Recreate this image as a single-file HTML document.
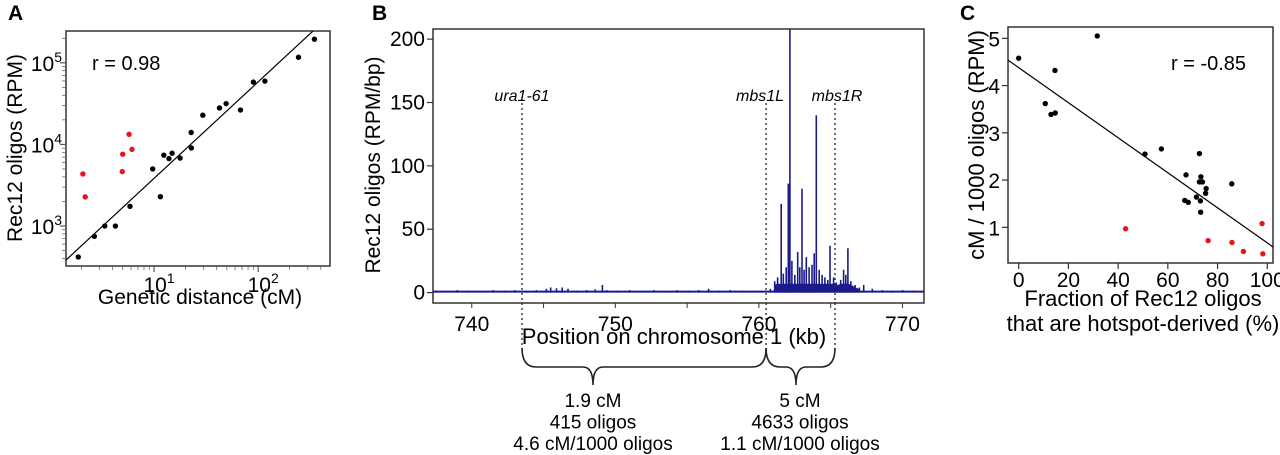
<!DOCTYPE html>
<html><head><meta charset="utf-8"><style>
html,body{margin:0;padding:0;background:#fff;width:1280px;height:455px;overflow:hidden}
svg{display:block;font-family:"Liberation Sans",sans-serif}
</style></head><body>
<svg id="fig" width="1280" height="455" viewBox="0 0 1280 455" xmlns="http://www.w3.org/2000/svg"></svg>
<script>
// ---------- Panel A data (genetic distance cM vs Rec12 oligos RPM) ----------
const aBlackX=[1.87,2.67,3.36,4.25,5.87,9.7,11.5,12.4,13.9,14.9,17.8,22.7,22.8,29.4,42.5,49.2,67.6,90,116,244,347];
const aBlackY=[417,748,1000,1000,1745,5010,2290,7380,6700,7800,6800,14000,9060,22800,28000,31600,26400,58000,59700,117000,195000];
const aRedX=[2.07,2.18,4.95,5.0,5.75,6.14];
const aRedY=[4350,2270,4640,7590,13300,8700];
const aFit=[2.583,1.183,0.154]; // log-log line: intercept at log x0, slope, log x0
const aYTicks=[3,4,5];
const aXTicks=[1,2];
// ---------- Panel B data (position kb vs Rec12 oligos RPM/bp) ----------
const bPos=[737.5,738.2,739.0,739.8,740.6,741.5,742.3,743.0,743.8,744.5,745.2,745.5,745.9,746.3,746.7,747.3,748.0,748.6,749.1,749.4,750.2,751.0,751.9,752.7,753.5,754.3,755.1,755.8,756.5,757.2,758.0,758.8,759.5,760.2,760.8,761.1,761.3,761.55,761.7,761.9,762.05,762.16,762.3,762.5,762.7,762.85,763.0,763.15,763.3,763.5,763.7,763.85,764.0,764.2,764.4,764.6,764.8,764.95,765.2,765.4,765.7,765.9,766.05,766.2,766.4,766.7,767.0,767.3,767.9,768.6,769.3,770.0,770.8];
const bVal=[1.5,1,2,1.5,1,2,1.5,2,1.5,2,3,4,3.5,4,3,1.5,2,2.5,6,2,1.5,2,1.5,2,1,2,1.5,2,3,1.5,2,1.5,1,1.5,3,9,12,70,15,20,86,210,25,14,32,20,82,18,28,20,22,31,140,18,14,12,10,37,12,8,10,18,14,35,9,6,4,6,3,2,1.5,2,1.5];
const bYTicks=[0,50,100,150,200];
const bXTicks=[740,750,760,770];
const bMarkers=[743.5,760.5,765.3];
const bMarkerNames=["ura1-61","mbs1L","mbs1R"];
// ---------- Panel C data (hotspot fraction % vs cM/1000 oligos) ----------
const cBlackX=[0,31.6,14.6,10.7,13.0,14.7,50.8,57.4,72.7,67.3,73.3,72.7,73.9,75.4,75.2,85.7,66.8,68.2,71.5,73.1,73.2];
const cBlackY=[4.58,5.05,4.32,3.62,3.39,3.42,2.55,2.66,2.56,2.11,2.07,1.96,1.96,1.82,1.72,1.92,1.57,1.53,1.64,1.56,1.32];
const cRedX=[43.0,76.2,85.8,90.4,97.9,98.2];
const cRedY=[0.97,0.72,0.68,0.49,1.08,0.44];
const cFit=[4.38,-0.0371];
const cYTicks=[1,2,3,4,5];
const cXTicks=[0,20,40,60,80,100];

const NS="http://www.w3.org/2000/svg";
const svg=document.getElementById('fig');
function mk(tag,attrs,parent,text){const e=document.createElementNS(NS,tag);for(const k in attrs)e.setAttribute(k,attrs[k]);if(text!==undefined)e.textContent=text;(parent||svg).appendChild(e);return e;}
function grp(name){const g=mk('g',{});return g;}
const TK=21, TT=21;

[['A',8,'panel-a-label'],['B',372,'panel-b-label'],['C',960,'panel-c-label']].forEach(p=>{
  const t=mk('text',{x:p[1],y:20,'font-size':21,'font-weight':'bold'},svg,p[0]);
  
  
});

// ===== Panel A =====
(function(){
  const L=66,R=330,T=31,B=266;
  const lx0=0.154,lx1=2.69,ly0=2.51,ly1=5.39;
  const X=v=>L+(Math.log10(v)-lx0)/(lx1-lx0)*(R-L);
  const Y=v=>B-(Math.log10(v)-ly0)/(ly1-ly0)*(B-T);
  const g=grp('panel-a');
  const box=mk('rect',{x:L,y:T,width:R-L,height:B-T,fill:'none',stroke:'#333','stroke-width':1.5},g);
  
  const cp=mk('clipPath',{id:'clipA'},g);mk('rect',{x:L,y:T,width:R-L,height:B-T},cp);
  const fx0=Math.pow(10,lx0),fx1=Math.pow(10,lx1);
  const fy=lx=>Math.pow(10,aFit[0]+aFit[1]*(lx-aFit[2]));
  const fl=mk('line',{x1:X(fx0),y1:Y(fy(lx0)),x2:X(fx1),y2:Y(fy(lx1)),stroke:'#000','stroke-width':1.2,'clip-path':'url(#clipA)'},g);
  
  for(let d=2;d<=5;d++){for(let m=1;m<=9;m++){const v=m*Math.pow(10,d);const lv=Math.log10(v);if(lv<ly0||lv>ly1)continue;const y=Y(v);
    mk('line',{x1:L-(m===1?6:4),x2:L,y1:y,y2:y,stroke:'#555','stroke-width':m===1?1.2:0.7},g);}}
  aYTicks.forEach(p=>{const t=mk('text',{x:L-4,y:Y(Math.pow(10,p))+8,'font-size':TK,'text-anchor':'end'},g);
    
    mk('tspan',{},t,'10');mk('tspan',{dy:-9,'font-size':14},t,String(p));});
  for(let d=0;d<=2;d++){for(let m=1;m<=9;m++){const v=m*Math.pow(10,d);const lv=Math.log10(v);if(lv<lx0||lv>lx1)continue;const x=X(v);
    mk('line',{x1:x,x2:x,y1:B,y2:B+(m===1?6:4),stroke:'#555','stroke-width':m===1?1.2:0.7},g);}}
  aXTicks.forEach(p=>{const t=mk('text',{x:X(Math.pow(10,p))+5,y:B+26,'font-size':TK,'text-anchor':'middle'},g);
    
    mk('tspan',{},t,'10');mk('tspan',{dy:-9,'font-size':14},t,String(p));});
  aBlackX.forEach((v,i)=>{const c=mk('circle',{cx:X(v),cy:Y(aBlackY[i]),r:2.7,fill:'#000'},g);
    });
  aRedX.forEach((v,i)=>{const c=mk('circle',{cx:X(v),cy:Y(aRedY[i]),r:2.7,fill:'#e8141b'},g);
    });
  const r=mk('text',{x:92,y:70,'font-size':20},g,'r  = 0.98');
  const xt=mk('text',{x:200,y:304,'font-size':TT,'text-anchor':'middle'},g,'Genetic distance (cM)');
  const yt=mk('text',{x:0,y:0,'font-size':TT,'text-anchor':'middle',transform:'translate(22,148) rotate(-90)'},g,'Rec12 oligos (RPM)');
})();

// ===== Panel B =====
(function(){
  const L=433,R=924,T=29,B=303;
  const x0=737.3,x1=771.5,y0=-8.2,y1=208;
  const X=v=>L+(v-x0)/(x1-x0)*(R-L);
  const Y=v=>B-(v-y0)/(y1-y0)*(B-T);
  const g=grp('panel-b');
  const cp=mk('clipPath',{id:'clipB'},g);mk('rect',{x:L,y:T,width:R-L,height:B-T},cp);
  const bl=mk('line',{x1:L,x2:R,y1:Y(0.8),y2:Y(0.8),stroke:'#1a1a8c','stroke-width':2},g);
  
  let d='';bPos.forEach((p,i)=>{const x=X(p);d+=`M${x.toFixed(1)},${Y(0).toFixed(1)}V${Y(bVal[i]).toFixed(1)}`;});
  const sp=mk('path',{d:d,stroke:'#1a1a8c','stroke-width':1.6,fill:'none','clip-path':'url(#clipB)'},g);
  
  let pts=`${X(761).toFixed(1)},${Y(0)} `;bPos.forEach((p,i)=>{if(p>=761&&p<=767){pts+=`${X(p).toFixed(1)},${Y(Math.min(bVal[i],10)*0.7).toFixed(1)} `;}});pts+=`${X(767).toFixed(1)},${Y(0)}`;
  const fa=mk('polygon',{points:pts,fill:'#1a1a8c'},g);
  const box=mk('rect',{x:L,y:T,width:R-L,height:B-T,fill:'none',stroke:'#333','stroke-width':1.5},g);
  
  bYTicks.forEach(v=>{const y=Y(v);mk('line',{x1:L-6,x2:L,y1:y,y2:y,stroke:'#333','stroke-width':1.2},g);
    const t=mk('text',{x:L-8,y:y+7,'font-size':TK,'text-anchor':'end'},g,String(v));});
  for(let v=740;v<=770;v+=5){const x=X(v);mk('line',{x1:x,x2:x,y1:B,y2:B+5,stroke:'#333','stroke-width':1},g);}
  bXTicks.forEach(v=>{const t=mk('text',{x:X(v),y:B+28,'font-size':TK,'text-anchor':'middle'},g,String(v));});
  bMarkers.forEach((v,i)=>{const x=X(v);const l=mk('line',{x1:x,x2:x,y1:103,y2:350,stroke:'#222','stroke-width':1.3,'stroke-dasharray':'2,3'},g);
    
    const t=mk('text',{x:x+(i===1?-6:i===2?2:0),y:101,'font-size':16,'font-style':'italic','text-anchor':'middle'},g,bMarkerNames[i]);
    });
  const xt=mk('text',{x:674,y:344,'font-size':22,'text-anchor':'middle'},g,'Position on chromosome 1 (kb)');
  const yt=mk('text',{x:0,y:0,'font-size':TT,'text-anchor':'middle',transform:'translate(380,165) rotate(-90)'},g,'Rec12 oligos (RPM/bp)');
  function brace(xa,xb,xm,name){const top=348,mid=367,tip=385;
    const p=`M${xa},${top} Q${xa},${mid} ${xa+14},${mid} L${xm-10},${mid} Q${xm},${mid} ${xm},${tip} Q${xm},${mid} ${xm+10},${mid} L${xb-14},${mid} Q${xb},${mid} ${xb},${top}`;
    const e=mk('path',{d:p,fill:'none',stroke:'#222','stroke-width':1.6},g);return xm;}
  const m1=brace(X(bMarkers[0]),X(bMarkers[1]),593,'brace-left');
  const m2=brace(X(bMarkers[1]),X(bMarkers[2]),796,'brace-right');
  [['1.9 cM','415 oligos','4.6 cM/1000 oligos',m1,'interval-left-stats'],['5 cM','4633 oligos','1.1 cM/1000 oligos',m2+4,'interval-right-stats']].forEach(s=>{
    [0,1,2].forEach(k=>{const t=mk('text',{x:s[3],y:407+k*21.5,'font-size':19,'text-anchor':'middle'},g,s[k]);});});
})();

// ===== Panel C =====
(function(){
  const L=1008,R=1273,T=27,B=263;
  const x0=-4.3,x1=102.3,y0=0.245,y1=5.24;
  const X=v=>L+(v-x0)/(x1-x0)*(R-L);
  const Y=v=>B-(v-y0)/(y1-y0)*(B-T);
  const g=grp('panel-c');
  const box=mk('rect',{x:L,y:T,width:R-L,height:B-T,fill:'none',stroke:'#333','stroke-width':1.5},g);
  
  const fl=mk('line',{x1:X(x0),y1:Y(cFit[0]+cFit[1]*x0),x2:X(x1),y2:Y(cFit[0]+cFit[1]*x1),stroke:'#000','stroke-width':1.2},g);
  
  cYTicks.forEach(v=>{const y=Y(v);mk('line',{x1:L-6,x2:L,y1:y,y2:y,stroke:'#333','stroke-width':1.2},g);
    const t=mk('text',{x:L-8,y:y+8,'font-size':TK,'text-anchor':'end'},g,String(v));});
  cXTicks.forEach(v=>{const x=X(v);mk('line',{x1:x,x2:x,y1:B,y2:B+6,stroke:'#333','stroke-width':1.2},g);
    const t=mk('text',{x:x,y:B+24,'font-size':TK,'text-anchor':'middle'},g,String(v));});
  cBlackX.forEach((v,i)=>{const c=mk('circle',{cx:X(v),cy:Y(cBlackY[i]),r:2.7,fill:'#000'},g);
    });
  cRedX.forEach((v,i)=>{const c=mk('circle',{cx:X(v),cy:Y(cRedY[i]),r:2.7,fill:'#e8141b'},g);
    });
  const r=mk('text',{x:1171,y:70,'font-size':20},g,'r  = -0.85');
  const xt1=mk('text',{x:1143,y:306,'font-size':22,'text-anchor':'middle'},g,'Fraction of Rec12 oligos');
  const xt2=mk('text',{x:1143,y:331,'font-size':22,'text-anchor':'middle'},g,'that are hotspot-derived (%)');
  const yt=mk('text',{x:0,y:0,'font-size':22,'text-anchor':'middle',transform:'translate(984,145) rotate(-90)'},g,'cM / 1000 oligos (RPM)');
})();
</script>
</body></html>
